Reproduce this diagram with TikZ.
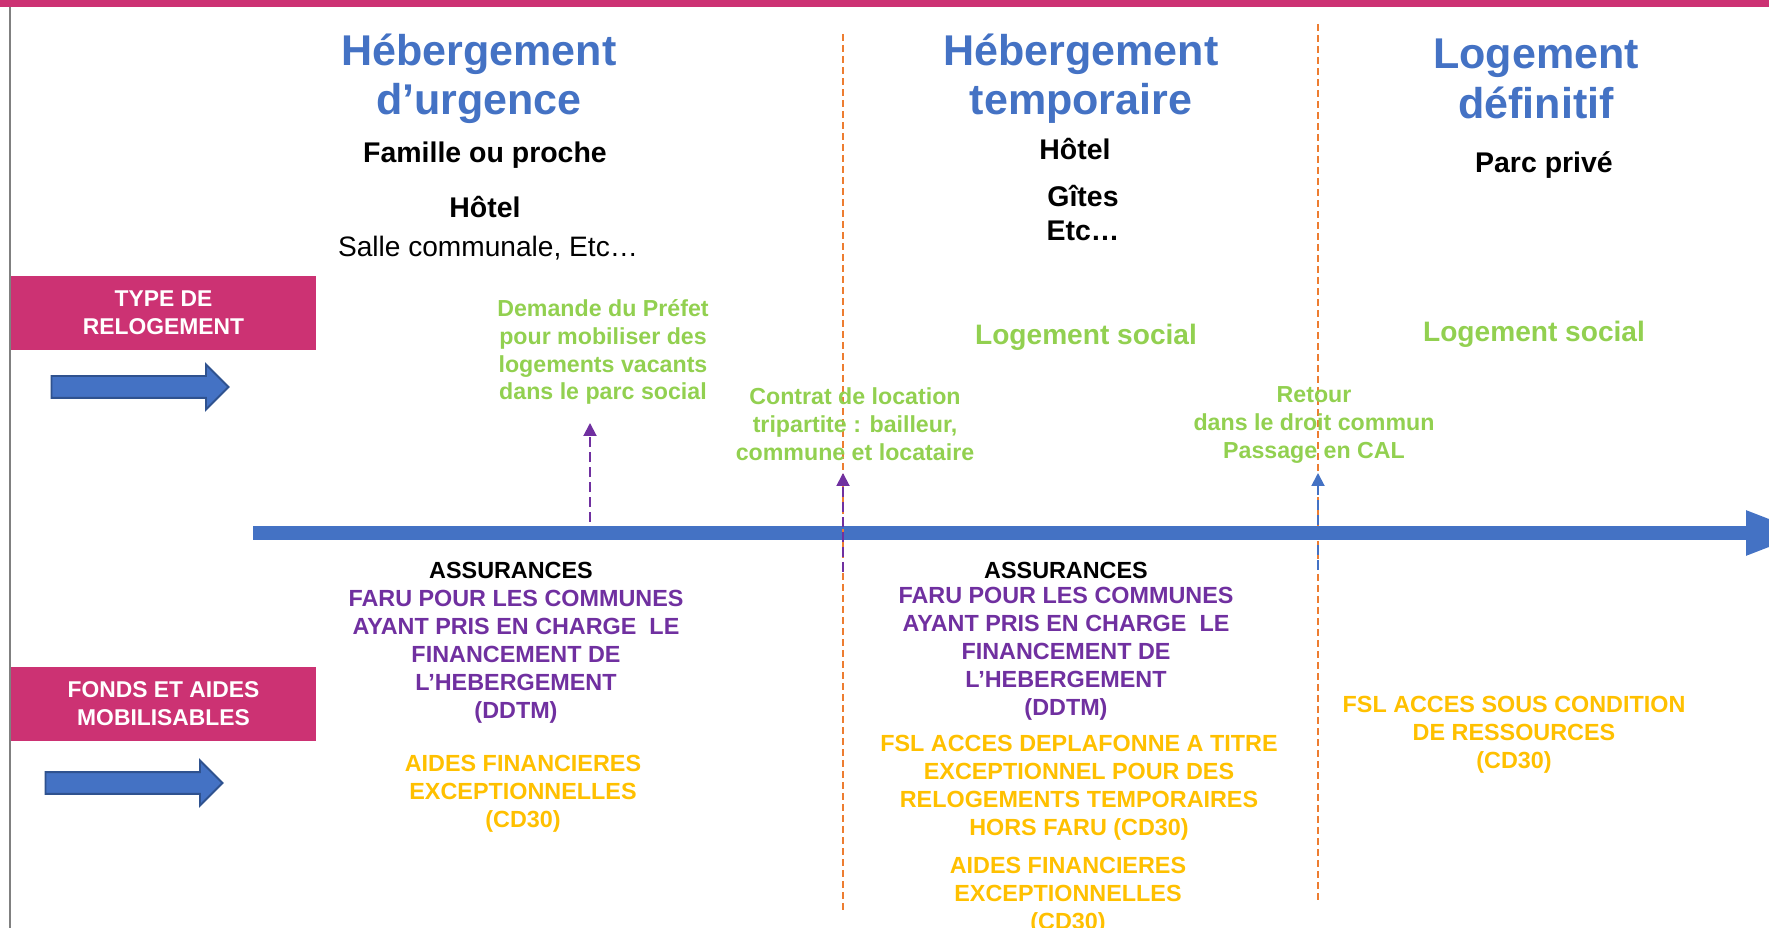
\documentclass[tikz,border=0pt]{standalone}
\usepackage{fontspec}
\setmainfont{Liberation Sans}
\usepackage{xcolor}
\usetikzlibrary{positioning,arrows.meta,shapes.arrows}

\definecolor{titleblue}{RGB}{68,114,196}
\definecolor{arrowedge}{RGB}{47,82,143}
\definecolor{pinkbox}{RGB}{204,50,115}
\definecolor{sepline}{RGB}{237,125,49}
\definecolor{leafgreen}{RGB}{146,208,80}
\definecolor{fundpurple}{RGB}{112,48,160}
\definecolor{fundgold}{RGB}{255,192,0}

\begin{document}
\begin{tikzpicture}[x=0.02cm,y=-0.02cm,
    title/.style={font=\fontsize{24.5}{28}\selectfont\bfseries,text=titleblue,align=center,inner sep=0},
    place/.style={font=\fontsize{16.2}{19.3}\selectfont\bfseries,align=center,inner sep=0},
    note/.style={font=\fontsize{13.2}{15.9}\selectfont\bfseries,text=leafgreen,align=center,inner sep=0},
    social/.style={font=\fontsize{16}{19}\selectfont\bfseries,text=leafgreen,inner sep=0},
    fund/.style={font=\fontsize{13.3}{16}\selectfont\bfseries,align=center,inner sep=0},
    band/.style={fill=pinkbox,text=white,font=\fontsize{13}{16}\selectfont\bfseries,align=center,
        minimum width=6.1cm,minimum height=1.48cm,inner sep=0},
    bigarrow/.style={single arrow,draw=arrowedge,fill=titleblue,line width=1.1pt,
        minimum height=3.54cm,minimum width=0.86cm,single arrow head extend=0.23cm,
        inner xsep=0,inner ysep=0.2cm},
    sep/.style={sepline,line width=0.85pt,dash pattern=on 0.14cm off 0.08cm},
    cue/.style={line width=1.1pt,dash pattern=on 0.2cm off 0.1cm,-{Triangle[length=0.26cm,width=0.26cm]}}]
    \useasboundingbox (0,0) rectangle (1769,928);
    \fill[pinkbox] (0,0) rectangle (1769,7);
    \draw[black!50,line width=0.9pt] (10,7) -- (10,928);

    \node[band] (typ) at (163.5,313) {TYPE DE\\RELOGEMENT};
    \node[band] (fonds) at (163.5,704) {FONDS ET AIDES\\MOBILISABLES};
    \node[bigarrow] (arrtyp) at (134.5,387) {};
    \node[bigarrow] (arrfonds) at (128.5,783) {};

    \coordinate (tlS) at (253,533);
    \coordinate (tlE) at (1808,533);
    \draw[titleblue,line width=0.28cm,-{Triangle[length=1.24cm,width=0.82cm]}] (tlS) -- (tlE);

    \coordinate (sepAtop) at (843,34);
    \coordinate (sepAbot) at (843,912);
    \coordinate (sepBtop) at (1318,24);
    \coordinate (sepBbot) at (1318,903);
    \draw[sep] (sepAtop) -- (sepAbot);
    \draw[sep] (sepBtop) -- (sepBbot);

    \node[title] (urg) at (479,79) {Hébergement\\d’urgence};
    \node[title] (temp) at (1081,79) {Hébergement\\temporaire};
    \node[title] (def) at (1536,79) {Logement\\définitif};

    \node[place] (famille) at (485,155) {Famille ou proche};
    \node[place] (hotelA) at (485,207) {Hôtel};
    \node[place,font=\fontsize{16}{19.3}\selectfont] (salle) at (488,248) {Salle communale, Etc…};
    \node[place] (hotelB) at (1075,149) {Hôtel};
    \node[place] (gites) at (1083,213) {Gîtes\\Etc…};
    \node[place] (prive) at (1544,165) {Parc privé};

    \node[note] (prefet) at (603,352) {Demande du Préfet\\pour mobiliser des\\logements vacants\\dans le parc social};
    \node[social] (socialB) at (1086,337) {Logement social};
    \node[social] (socialC) at (1534,334) {Logement social};
    \node[note] (contrat) at (855,424) {Contrat de location\\tripartite : bailleur,\\commune et locataire};
    \node[note] (retour) at (1314,425) {Retour\\dans le droit commun\\Passage en CAL};

    \coordinate (prefS) at (590,522);
    \coordinate (prefT) at (590,423);
    \coordinate (triS) at (843,572);
    \coordinate (triT) at (843,473);
    \coordinate (calS) at (1318,570);
    \coordinate (calT) at (1318,473);
    \draw[cue,fundpurple] (prefS) -- (prefT);
    \draw[cue,fundpurple] (triS) -- (triT);
    \draw[cue,titleblue] (calS) -- (calT);

    \node[fund] (assurA) at (511,570) {ASSURANCES};
    \node[fund,text=fundpurple] (faruA) at (516,657) {FARU POUR LES COMMUNES\\AYANT PRIS EN CHARGE\ \ LE\\FINANCEMENT DE\\L’HEBERGEMENT\\(DDTM)};
    \node[fund,text=fundgold] (aidesA) at (523,794) {AIDES FINANCIERES\\EXCEPTIONNELLES\\(CD30)};

    \node[fund] (assurB) at (1066,570) {ASSURANCES};
    \node[fund,text=fundpurple] (faruB) at (1066,654) {FARU POUR LES COMMUNES\\AYANT PRIS EN CHARGE\ \ LE\\FINANCEMENT DE\\L’HEBERGEMENT\\(DDTM)};
    \node[fund,text=fundgold] (fslB) at (1079,787.5) {FSL ACCES DEPLAFONNE A TITRE\\EXCEPTIONNEL POUR DES\\RELOGEMENTS TEMPORAIRES\\HORS FARU (CD30)};
    \node[fund,text=fundgold] (aidesB) at (1068,896) {AIDES FINANCIERES\\EXCEPTIONNELLES\\(CD30)};

    \node[fund,text=fundgold] (fslC) at (1514,735) {FSL ACCES SOUS CONDITION\\DE RESSOURCES\\(CD30)};
\end{tikzpicture}
\end{document}
